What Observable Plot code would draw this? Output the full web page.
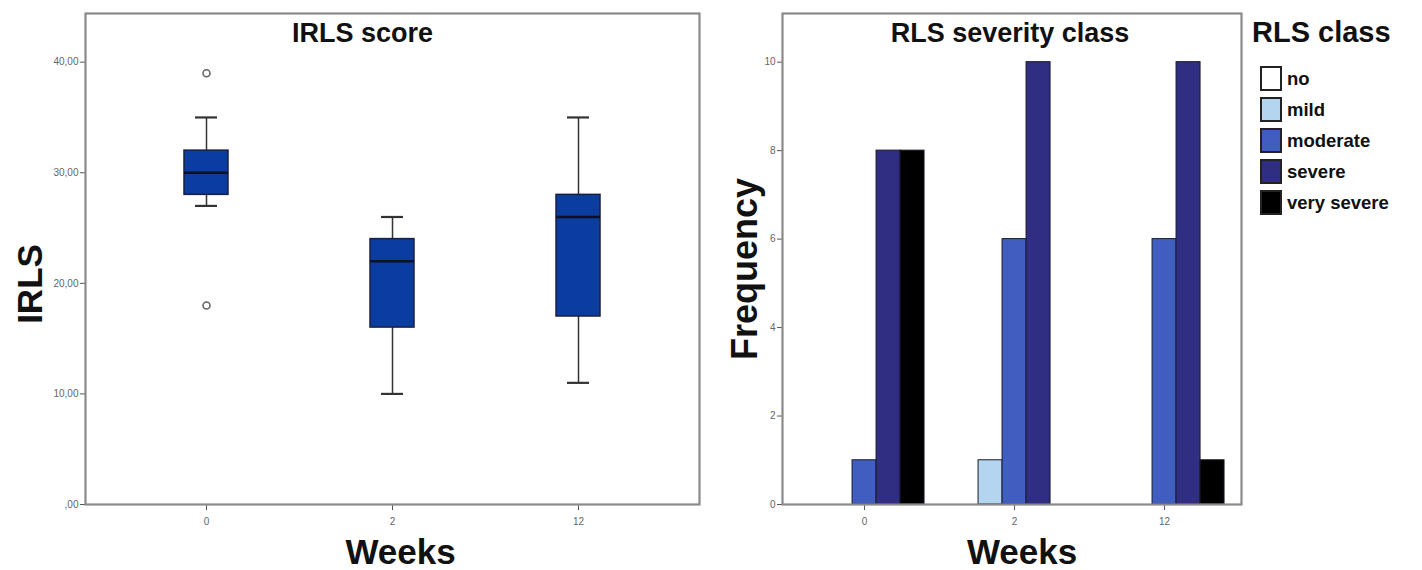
<!DOCTYPE html>
<html>
<head>
<meta charset="utf-8">
<script src="https://cdn.jsdelivr.net/npm/d3@7"></script>
<script src="https://cdn.jsdelivr.net/npm/@observablehq/plot@0.6"></script>
<style>
  html, body { margin: 0; padding: 0; background: #fff; }
  #wrap { position: relative; width: 1422px; height: 570px; overflow: hidden; font-family: "Liberation Sans", Arial, sans-serif; }
  #left { position: absolute; left: 0; top: 0; }
  #right { position: absolute; left: 720px; top: 0; }
  #legend { position: absolute; left: 1252px; top: 0; }
  #legend .ttl { font-weight: bold; font-size: 29px; line-height: 30px; margin-top: 17px; color: #111; }
  #legend .row { display: flex; align-items: center; height: 31px; margin-left: 8px; }
  #legend .sw { width: 22px; height: 25px; border: 2px solid #222; box-sizing: border-box; margin-right: 5px; }
  #legend .lab { font-weight: bold; font-size: 18.5px; color: #111; }
  svg text { font-family: "Liberation Sans", Arial, sans-serif; }
</style>
</head>
<body>
<div id="wrap">
  <div id="left"></div>
  <div id="right"></div>
  <div id="legend"></div>
</div>
<script>
// ---- Data: IRLS score box plot ----
const weeks = ["0", "2", "12"];
const whiskerLow = [27, 10, 11];
const boxQ1 = [28, 16, 17];
const boxMedian = [30, 22, 26];
const boxQ3 = [32, 24, 28];
const whiskerHigh = [35, 26, 35];
const outlierWeeks = ["0", "0"];
const outlierValues = [39, 18];
const irlsTicks = [0, 10, 20, 30, 40];

// ---- Data: RLS severity class frequencies ----
const classes = ["no", "mild", "moderate", "severe", "very severe"];
const classColors = ["#ffffff", "#b3d5ef", "#3f5ec0", "#2f2e82", "#000000"];
const countsWeek0 = [0, 0, 1, 8, 8];
const countsWeek2 = [0, 1, 6, 10, 0];
const countsWeek12 = [0, 0, 6, 10, 1];
const freqTicks = [0, 2, 4, 6, 8, 10];

// ---- Tables built from arrays ----
const boxes = weeks.map((w, i) => ({
  week: w, lo: whiskerLow[i], q1: boxQ1[i], med: boxMedian[i], q3: boxQ3[i], hi: whiskerHigh[i]
}));
const outliers = outlierWeeks.map((w, i) => ({ week: w, value: outlierValues[i] }));

const countsByWeek = [countsWeek0, countsWeek2, countsWeek12];
const slot = 0.16; // width of one class slot, in week-index units
const bars = [];
countsByWeek.forEach((arr, gi) => {
  arr.forEach((c, ci) => {
    if (c > 0) bars.push({
      gi, week: weeks[gi], cls: classes[ci], count: c,
      x1: gi + (ci - 2.5) * slot, x2: gi + (ci - 1.5) * slot
    });
  });
});

const fmtComma = d => d === 0 ? ",00" : d.toFixed(2).replace(".", ",");
const frameColor = "#8a8a8a";
const tickColor = "#666";

// ---- Left: box plot ----
const left = Plot.plot({
  width: 720, height: 570,
  marginLeft: 85, marginRight: 21, marginTop: 13, marginBottom: 66,
  style: { background: "transparent", color: tickColor, overflow: "visible" },
  x: { type: "band", domain: weeks, paddingInner: 0.764, paddingOuter: 0.528, axis: null },
  y: { domain: [0, 44.4], axis: null },
  marks: [
    Plot.axisY({ ticks: irlsTicks, tickFormat: fmtComma, tickSize: 5, tickPadding: 2, fontSize: 10, label: null, stroke: "#555", fill: "#666" }),
    Plot.axisX({ tickSize: 6, tickPadding: 7, fontSize: 10, label: null, stroke: "#555", fill: "#666" }),
    Plot.ruleX(boxes, { x: "week", y1: "lo", y2: "hi", stroke: "#333", strokeWidth: 1.5 }),
    Plot.tickY(boxes, { x: "week", y: "lo", stroke: "#333", strokeWidth: 2.2, insetLeft: 11, insetRight: 11 }),
    Plot.tickY(boxes, { x: "week", y: "hi", stroke: "#333", strokeWidth: 2.2, insetLeft: 11, insetRight: 11 }),
    Plot.barY(boxes, { x: "week", y1: "q1", y2: "q3", fill: "#0b3c9f", stroke: "#1a1f40", strokeWidth: 1.5 }),
    Plot.tickY(boxes, { x: "week", y: "med", stroke: "#0a0f2a", strokeWidth: 2.5 }),
    Plot.dot(outliers, { x: "week", y: "value", r: 3.5, fill: "white", stroke: "#666", strokeWidth: 1.6 }),
    Plot.frame({ stroke: frameColor, strokeWidth: 2.2 }),
    Plot.text(["IRLS score"], { frameAnchor: "top", dx: -30, dy: 20, lineAnchor: "middle", fontSize: 27, fontWeight: "bold", fill: "#111" }),
    Plot.text(["IRLS"], { frameAnchor: "left", textAnchor: "middle", rotate: -90, dx: -55, dy: 25, fontSize: 35, fontWeight: "bold", fill: "#111" }),
    Plot.text(["Weeks"], { frameAnchor: "bottom", dx: 8, dy: 48, lineAnchor: "middle", fontSize: 35, fontWeight: "bold", fill: "#111" })
  ]
});
document.getElementById("left").appendChild(left);

// ---- Right: clustered bar chart ----
const right = Plot.plot({
  width: 530, height: 570,
  marginLeft: 62, marginRight: 9, marginTop: 13, marginBottom: 66,
  style: { background: "transparent", color: tickColor, overflow: "visible" },
  x: { domain: [-0.547, 2.513], axis: null },
  y: { domain: [0, 11.1], axis: null },
  color: { domain: classes, range: classColors },
  marks: [
    Plot.axisY({ ticks: freqTicks, tickSize: 5, tickPadding: 2, fontSize: 10, label: null, stroke: "#555", fill: "#666" }),
    Plot.axisX({ ticks: [0, 1, 2], tickFormat: i => weeks[i], tickSize: 6, tickPadding: 7, fontSize: 10, label: null, stroke: "#555", fill: "#666" }),
    Plot.rectY(bars, { x1: "x1", x2: "x2", y1: 0, y2: "count", fill: "cls", stroke: "#1a1a2a", strokeWidth: 1 }),
    Plot.frame({ stroke: frameColor, strokeWidth: 2.2 }),
    Plot.text(["RLS severity class"], { frameAnchor: "top", dx: -2, dy: 20, lineAnchor: "middle", fontSize: 27, fontWeight: "bold", fill: "#111" }),
    Plot.text(["Frequency"], { frameAnchor: "left", textAnchor: "middle", rotate: -90, dx: -37, dy: 10, fontSize: 36, fontWeight: "bold", fill: "#111" }),
    Plot.text(["Weeks"], { frameAnchor: "bottom", dx: 10, dy: 48, lineAnchor: "middle", fontSize: 35, fontWeight: "bold", fill: "#111" })
  ]
});
document.getElementById("right").appendChild(right);

// ---- Legend (HTML) ----
const lg = document.getElementById("legend");
const t = document.createElement("div");
t.className = "ttl"; t.textContent = "RLS class";
lg.appendChild(t);
const rows = document.createElement("div");
rows.style.marginTop = "16px";
classes.forEach((c, i) => {
  const r = document.createElement("div"); r.className = "row";
  const s = document.createElement("div"); s.className = "sw"; s.style.background = classColors[i];
  const l = document.createElement("div"); l.className = "lab"; l.textContent = c;
  r.appendChild(s); r.appendChild(l); rows.appendChild(r);
});
lg.appendChild(rows);
</script>
</body>
</html>
